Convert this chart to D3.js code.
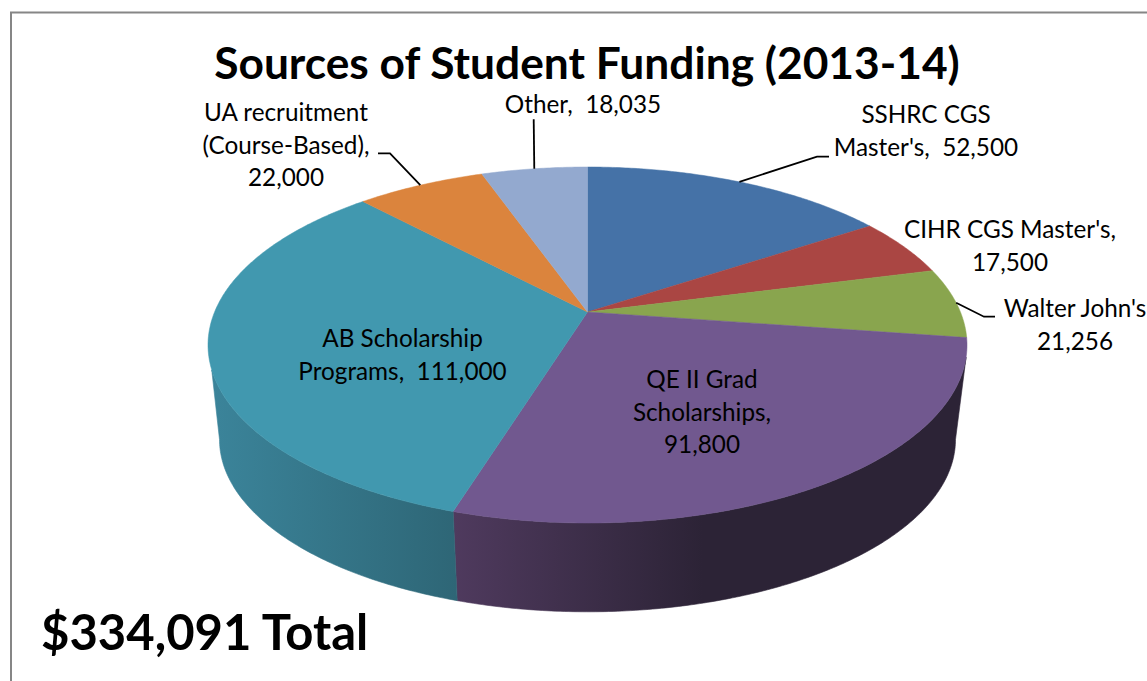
<!DOCTYPE html>
<html><head><meta charset="utf-8">
<script src="https://cdn.jsdelivr.net/npm/d3@7"></script>
<style>
html,body{margin:0;padding:0;background:#fff;overflow:hidden}
svg{display:block}
text{font-family:Lato,Carlito,"Open Sans",sans-serif;fill:#000;white-space:pre}
</style></head><body><svg id="c" width="1147" height="681"></svg>
<script>
const categories = ["SSHRC CGS Master's","CIHR CGS Master's","Walter John's","QE II Grad Scholarships","AB Scholarship Programs","UA recruitment (Course-Based)","Other"];
const values = [52500,17500,21256,91800,111000,22000,18035];
const colors = ["#4572A7","#AA4643","#89A54E","#71588F","#4198AF","#DB843D","#93A9CF"];
const wallLeft = {3:"#4f3a5e",4:"#3b849a"};
const wallRight = {3:"#2c2336",4:"#2e6676"};
const titleText = "Sources of Student Funding (2013-14)";
const totalText = "$334,091 Total";
const labelLines = [["SSHRC CGS","Master's,  52,500"],["CIHR CGS Master's,","17,500"],["Walter John's","21,256"],["QE II Grad","Scholarships,","91,800"],["AB Scholarship","Programs,  111,000"],["UA recruitment","(Course-Based),","22,000"],["Other,  18,035"]];
const labelX = [926,1010,1075,702,402.5,286,583];
const labelY = [123,238,317,388,347,121,113];
const lineGap = 32.5;
const leaderElbows = {0:[[817,156.7],[829,156.7]],2:[[984,316.7],[995,316.7]],5:[[390,153.3],[378,153.3]],6:[[533.7,119.3]]};

const svg = d3.select("#c");
svg.append("path").attr("d","M11,681V12.5H1147").attr("fill","none").attr("stroke","#868686").attr("stroke-width",2);

const TAU = 2*Math.PI;
const k = -66/356;
const topRim = {cx:587.5, y0:312, a:379.5*Math.sqrt(1-k*k), b:145*(1-k)};
const botRim = {cx:587.5, y0:407.5, a:368*Math.sqrt(1-k*k), b:140.4*(1-k)};
const project = (t,r)=>{const u=Math.sin(t),v=-Math.cos(t),w=1+k*v;return [r.cx+r.a*u/w,r.y0+r.b*v/w];};
const arcPts = (a0,a1,r)=>{const n=Math.max(2,Math.ceil((a1-a0)/0.01));return d3.range(n+1).map(i=>project(a0+(a1-a0)*i/n,r));};
const line = d3.line();
const pie = d3.pie().sort(null).value(d=>d)(values);

const wallTop = [104.5/360*TAU, 251.5/360*TAU];
const wallBot = [100.7/360*TAU, 259.3/360*TAU];
const defs = svg.append("defs");
pie.forEach((s,i)=>{
  if(Math.min(s.endAngle,wallTop[1])<=Math.max(s.startAngle,wallTop[0])) return;
  const top=arcPts(Math.max(s.startAngle,wallTop[0]),Math.min(s.endAngle,wallTop[1]),topRim);
  const bot=arcPts(Math.max(s.startAngle,wallBot[0]),Math.min(s.endAngle,wallBot[1]),botRim).reverse();
  const xs=top.concat(bot).map(p=>p[0]);
  const id="w"+i;
  const g=defs.append("linearGradient").attr("id",id).attr("gradientUnits","userSpaceOnUse")
    .attr("x1",d3.min(xs)).attr("x2",i===3?d3.min(xs)+250:d3.max(xs)).attr("y1",0).attr("y2",0);
  g.append("stop").attr("offset",0).attr("stop-color",wallLeft[i]);
  g.append("stop").attr("offset",1).attr("stop-color",wallRight[i]);
  svg.append("path").attr("d",line(top.concat(bot))+"Z").attr("fill",`url(#${id})`).attr("stroke",`url(#${id})`).attr("stroke-width",0.6);
});

pie.forEach((s,i)=>{
  const pts=[[topRim.cx,topRim.y0]].concat(arcPts(s.startAngle,s.endAngle,topRim));
  svg.append("path").attr("d",line(pts)+"Z").attr("fill",colors[i]).attr("stroke",colors[i]).attr("stroke-width",0.5).attr("stroke-linejoin","round");
});

Object.keys(leaderElbows).forEach(i=>{
  const s=pie[+i];
  const pts=[project((s.startAngle+s.endAngle)/2,topRim)].concat(leaderElbows[i]);
  svg.append("path").attr("d",line(pts)).attr("fill","none").attr("stroke","#000").attr("stroke-width",1.8);
});

labelLines.forEach((lines,i)=>{
  lines.forEach((t,j)=>{
    svg.append("text").attr("x",labelX[i]).attr("y",labelY[i]+j*lineGap).attr("text-anchor","middle").attr("font-size",24.3).text(t);
  });
});
svg.append("text").attr("x",587).attr("y",79).attr("text-anchor","middle").attr("font-size",44.3).attr("font-weight",700).text(titleText);
svg.append("text").attr("x",41).attr("y",650).attr("font-size",49).attr("font-weight",700).text(totalText);
</script></body></html>
